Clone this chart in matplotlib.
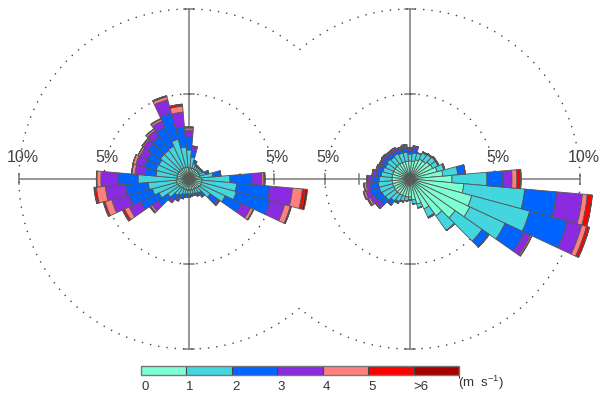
import numpy as np
import matplotlib
matplotlib.use("Agg")
import matplotlib.pyplot as plt
import matplotlib as mpl
from matplotlib.colors import ListedColormap, BoundaryNorm

plt.rcParams['font.family'] = ['Liberation Sans', 'DejaVu Sans']
plt.rcParams['mathtext.default'] = 'regular'

# wind directions (deg, from north, clockwise), 10 deg sectors
directions = np.arange(0, 360, 10)

speed_labels = ['0', '1', '2', '3', '4', '5', '>6']
speed_colors = ['#7fffd4', '#44d6de', '#0064ff', '#8a2be2', '#ff7f7f', '#ff0000', '#a80000']

# left rose: frequency (%) per speed class and direction
left_c0 = [0.65, 0.65, 0.65, 0.65, 0.65, 0.65, 0.65, 0.65, 0.65, 0.76, 0.76, 0.76,
           0.76, 0.71, 0.65, 0.65, 0.65, 0.65, 0.65, 0.65, 0.65, 0.65, 0.65, 0.71,
           0.71, 0.76, 0.76, 0.71, 0.71, 0.71, 0.71, 0.71, 0.71, 0.71, 0.71, 0.71]
left_c1 = [1.06, 0.65, 0.29, 0.18, 0.18, 0.18, 0.21, 0.35, 0.76, 1.65, 2.06, 2.12,
           1.59, 0.82, 0.35, 0.29, 0.24, 0.24, 0.24, 0.24, 0.29, 0.41, 0.53, 0.82,
           1.24, 1.47, 1.65, 2.29, 1.24, 1.29, 1.24, 1.35, 1.35, 1.41, 1.71, 1.18]
left_c2 = [0.76, 0.35, 0.15, 0.09, 0.06, 0.06, 0.06, 0.18, 0.41, 1.29, 1.94, 2.06,
           1.06, 0.53, 0.24, 0.15, 0.12, 0.12, 0.18, 0.21, 0.24, 0.29, 0.35, 0.71,
           1.18, 1.41, 1.35, 1.18, 0.65, 0.71, 0.76, 0.88, 1.00, 1.24, 1.59, 1.18]
left_c3 = [0.41, 0.24, 0.03, 0.00, 0.00, 0.00, 0.00, 0.03, 0.06, 0.59, 1.35, 0.88,
           0.59, 0.12, 0.06, 0.03, 0.00, 0.00, 0.00, 0.00, 0.03, 0.06, 0.12, 0.41,
           0.76, 1.06, 1.18, 1.00, 0.59, 0.53, 0.47, 0.35, 0.41, 0.41, 0.82, 0.88]
left_c4 = [0.12, 0.03, 0.00, 0.00, 0.00, 0.00, 0.00, 0.00, 0.00, 0.12, 0.59, 0.35,
           0.18, 0.03, 0.00, 0.00, 0.00, 0.00, 0.00, 0.00, 0.00, 0.03, 0.06, 0.12,
           0.29, 0.41, 0.53, 0.24, 0.18, 0.18, 0.12, 0.09, 0.12, 0.12, 0.18, 0.35]
left_c5 = [0.06, 0.03, 0.00, 0.00, 0.00, 0.00, 0.00, 0.00, 0.00, 0.06, 0.18, 0.06,
           0.03, 0.00, 0.00, 0.00, 0.00, 0.00, 0.00, 0.00, 0.00, 0.00, 0.00, 0.06,
           0.12, 0.09, 0.12, 0.03, 0.03, 0.00, 0.00, 0.00, 0.00, 0.03, 0.06, 0.12]
left_c6 = [0.00, 0.00, 0.00, 0.00, 0.00, 0.00, 0.00, 0.00, 0.00, 0.00, 0.12, 0.00,
           0.00, 0.00, 0.00, 0.00, 0.00, 0.00, 0.00, 0.00, 0.00, 0.00, 0.00, 0.00,
           0.03, 0.03, 0.03, 0.00, 0.00, 0.00, 0.00, 0.00, 0.00, 0.00, 0.00, 0.00]

# right rose
right_c0 = [1.06, 1.06, 1.18, 1.29, 1.29, 1.41, 1.47, 1.65, 1.94, 2.47, 3.18, 3.76,
            3.88, 3.24, 2.65, 1.94, 1.53, 1.24, 1.06, 1.06, 1.06, 1.06, 1.06, 1.06,
            1.06, 1.06, 1.06, 1.06, 1.06, 1.06, 1.06, 1.06, 1.06, 1.06, 1.06, 1.06]
right_c1 = [0.41, 0.47, 0.41, 0.41, 0.47, 0.41, 0.35, 0.41, 0.88, 2.06, 3.59, 3.53,
            2.29, 1.94, 1.06, 0.53, 0.24, 0.24, 0.18, 0.24, 0.29, 0.41, 0.53, 0.71,
            0.76, 0.82, 0.82, 0.76, 0.65, 0.59, 0.53, 0.59, 0.53, 0.59, 0.53, 0.53]
right_c2 = [0.18, 0.24, 0.00, 0.06, 0.06, 0.06, 0.06, 0.06, 0.41, 0.94, 1.88, 2.29,
            1.24, 0.47, 0.00, 0.06, 0.00, 0.00, 0.00, 0.00, 0.06, 0.12, 0.24, 0.41,
            0.47, 0.53, 0.47, 0.41, 0.29, 0.24, 0.24, 0.24, 0.24, 0.18, 0.18, 0.24]
right_c3 = [0.12, 0.12, 0.00, 0.00, 0.00, 0.00, 0.00, 0.00, 0.03, 0.53, 1.53, 0.88,
            0.41, 0.03, 0.00, 0.00, 0.00, 0.00, 0.00, 0.00, 0.00, 0.00, 0.06, 0.24,
            0.29, 0.29, 0.24, 0.24, 0.18, 0.12, 0.12, 0.12, 0.12, 0.12, 0.12, 0.12]
right_c4 = [0.06, 0.06, 0.00, 0.00, 0.00, 0.00, 0.00, 0.00, 0.00, 0.29, 0.29, 0.29,
            0.09, 0.00, 0.00, 0.00, 0.00, 0.00, 0.00, 0.00, 0.00, 0.00, 0.00, 0.06,
            0.12, 0.12, 0.12, 0.06, 0.06, 0.06, 0.06, 0.06, 0.06, 0.06, 0.06, 0.06]
right_c5 = [0.00, 0.00, 0.00, 0.00, 0.00, 0.00, 0.00, 0.00, 0.00, 0.24, 0.29, 0.18,
            0.00, 0.00, 0.00, 0.00, 0.00, 0.00, 0.00, 0.00, 0.00, 0.00, 0.00, 0.00,
            0.06, 0.03, 0.03, 0.00, 0.00, 0.00, 0.00, 0.00, 0.00, 0.03, 0.00, 0.03]
right_c6 = [0.0] * 36

left_rose = [left_c0, left_c1, left_c2, left_c3, left_c4, left_c5, left_c6]
right_rose = [right_c0, right_c1, right_c2, right_c3, right_c4, right_c5, right_c6]

ring_pct = [5, 10]

# ---------------- layout (pixels) ----------------
W, H = 600, 396
px_per_pct = 17.0
centers_px = [(189, 179), (410, 179)]
rmax = 10

fig = plt.figure(figsize=(W / 100, H / 100), dpi=100)

# overlay axes in percent units, left rose centre at (0, 0)
ov = fig.add_axes([0, 0, 1, 1])
cx0, cy0 = centers_px[0]
ov.set_xlim(-cx0 / px_per_pct, (W - cx0) / px_per_pct)
ov.set_ylim(-(H - cy0) / px_per_pct, cy0 / px_per_pct)
ov.axis('off')
ov.set_zorder(0)

sep = (centers_px[1][0] - centers_px[0][0]) / px_per_pct
xc = [0.0, sep]

gcol = '#7a7a7a'
# horizontal axis across both roses
ov.plot([xc[0] - rmax, xc[1] + rmax], [0, 0], color=gcol, lw=1.1)
for x0 in xc:
    ov.plot([x0, x0], [-rmax, rmax], color=gcol, lw=1.1)
    for r in ring_pct:
        for s in (-1, 1):
            ov.plot([x0 - 0.3, x0 + 0.3], [s * r, s * r], color=gcol, lw=1.1)
            ov.plot([x0 + s * r, x0 + s * r], [-0.3, 0.3], color=gcol, lw=1.1)

# dotted rings; outer rings merge into one outline
half_gap = np.degrees(np.arccos((sep / 2) / rmax))
dots = (0, (1, 5))
for k, x0 in enumerate(xc):
    th = np.radians(np.linspace(0, 360, 400))
    ov.plot(x0 + 5 * np.sin(th), 5 * np.cos(th), color='#444444', lw=1.0, ls=dots)
    if k == 0:
        a = np.radians(np.linspace(90 + half_gap, 450 - half_gap, 400))
    else:
        a = np.radians(np.linspace(-90 + half_gap, 270 - half_gap, 400))
    ov.plot(x0 + rmax * np.sin(a), rmax * np.cos(a), color='#444444', lw=1.0, ls=dots)

# percent labels
lab_pos = [(xc[0] - 10, '10%'), (xc[0] - 5, '5%'), (xc[0] + 5, '5%'),
           (xc[1] - 5, '5%'), (xc[1] + 5, '5%'), (xc[1] + 10, '10%')]
for xp, t in lab_pos:
    ov.text(xp + 0.2, 0.8, t, ha='center', va='bottom', fontsize=11.5,
            color='#404040')

# ---------------- roses ----------------
theta = np.radians(directions)
width = np.radians(10)
for (cx, cy), rose in zip(centers_px, [left_rose, right_rose]):
    rad = rmax * px_per_pct
    axp = fig.add_axes([(cx - rad) / W, (H - cy - rad) / H, 2 * rad / W, 2 * rad / H],
                       projection='polar')
    axp.set_theta_zero_location('N')
    axp.set_theta_direction(-1)
    axp.set_ylim(0, rmax)
    axp.patch.set_alpha(0)
    axp.axis('off')
    axp.set_zorder(1)
    bottom = np.zeros(len(directions))
    for vals, col in zip(rose, speed_colors):
        vals = np.array(vals)
        axp.bar(theta, vals, width=width, bottom=bottom, color=col,
                edgecolor='#555555', linewidth=0.6, clip_on=False)
        bottom = bottom + vals

# ---------------- colour bar ----------------
cax = fig.add_axes([141 / W, (H - 375) / H, 318 / W, 9 / H])
cmap = ListedColormap(speed_colors)
norm = BoundaryNorm(np.arange(8), cmap.N)
cb = fig.colorbar(mpl.cm.ScalarMappable(norm=norm, cmap=cmap), cax=cax,
                  orientation='horizontal', drawedges=True)
cb.outline.set_edgecolor('#777777')
cb.outline.set_linewidth(1.0)
cb.dividers.set_color('#444444')
cb.dividers.set_linewidth(0.8)
cb.set_ticks(np.arange(7))
cb.ax.set_xticklabels(speed_labels, ha='left', fontsize=9.5, color='#333333')
cb.ax.tick_params(length=0, pad=4)
fig.text(458 / W, (H - 383) / H, '(m  s$^{-1}$)', ha='left', va='center',
         fontsize=9.5, color='#333333')

fig.savefig('out.png', dpi=100)
